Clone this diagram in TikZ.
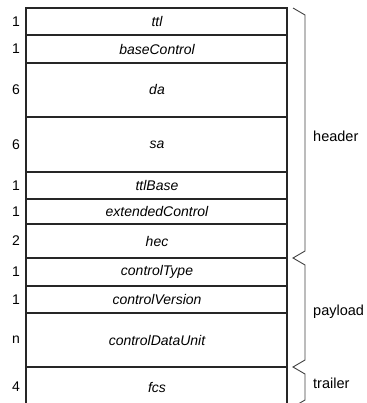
\documentclass[tikz,border=0pt]{standalone}
\usepackage{fontspec}
\setmainfont{Liberation Sans}
\begin{document}
\begin{tikzpicture}[x=1pt,y=-1pt,
  rowline/.style={line width=1.1pt,black!85},
  bracel/.style={line width=0.9pt,black!75,line join=miter},
  fld/.style={font=\fontsize{14}{16}\selectfont\itshape,inner sep=0pt,anchor=center},
  num/.style={font=\fontsize{14}{16}\selectfont,inner sep=0pt,anchor=center},
  grp/.style={font=\fontsize{14.5}{16}\selectfont,inner sep=0pt,anchor=west}]
\useasboundingbox (0,0) rectangle (366,403);
\clip (0,0) rectangle (366,403);
% box
\draw[rowline] (26,420) -- (26,8) -- (287,8) -- (287,420);
\foreach \y in {35,63,117,172,199,224,258,286,313,367}
  \draw[rowline] (26,\y) -- (287,\y);
% field names
\node[fld] (f1) at (157,21.5) {ttl};
\node[fld] (f2) at (157,49) {baseControl};
\node[fld] (f3) at (157,90) {da};
\node[fld] (f4) at (157,144.5) {sa};
\node[fld] (f5) at (157,185.5) {ttlBase};
\node[fld] (f6) at (157,211.5) {extendedControl};
\node[fld] (f7) at (157,241) {hec};
\node[fld] (f8) at (157,272) {controlType};
\node[fld] (f9) at (157,299.5) {controlVersion};
\node[fld] (f10) at (157,340) {controlDataUnit};
\node[fld] (f11) at (157,387) {fcs};
% sizes
\node[num] (n1) at (16,21.5) {1};
\node[num] (n2) at (16,49) {1};
\node[num] (n3) at (16,90) {6};
\node[num] (n4) at (16,144.5) {6};
\node[num] (n5) at (16,185.5) {1};
\node[num] (n6) at (16,211.5) {1};
\node[num] (n7) at (16,241) {2};
\node[num] (n8) at (16,272) {1};
\node[num] (n9) at (16,299.5) {1};
\node[num] (n10) at (16,340) {n};
\node[num] (n11) at (16,387) {4};
% braces
\draw[bracel] (293,8) -- (305,15) -- (305,251) -- (293,258) -- (305,265)
  -- (305,360) -- (293,367) -- (305,374) -- (305,400) -- (293,407);
% group labels
\node[grp] (gh) at (313,136) {header};
\node[grp] (gp) at (313,312) {payload};
\node[grp] (gt) at (313,383) {trailer};
\end{tikzpicture}
\end{document}
